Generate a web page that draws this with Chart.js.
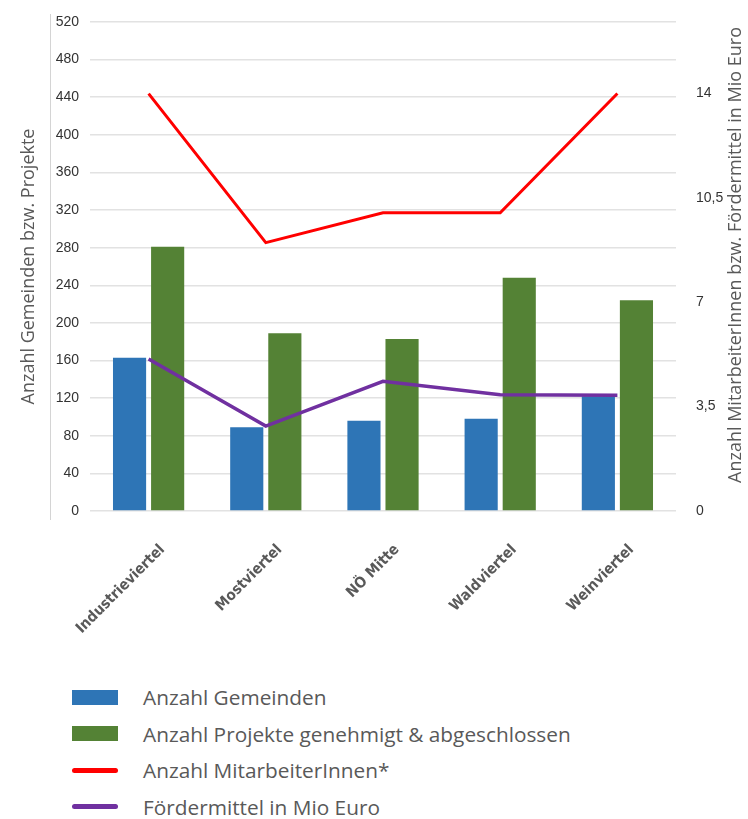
<!DOCTYPE html>
<html>
<head>
<meta charset="utf-8">
<script src="https://cdn.jsdelivr.net/npm/chart.js@4/dist/chart.umd.min.js"></script>
<style>
  body { margin: 0; background: #fff; }
  #wrap { width: 748px; height: 665px; position: relative; }
  #legend { margin: 14px 0 0 72px; font-family: "Open Sans", sans-serif; font-size: 20.8px; color: #595959; }
  .row { display: flex; align-items: center; height: 36.5px; }
  .mark { width: 46px; margin-right: 25px; }
</style>
</head>
<body>
<div id="wrap"><canvas id="chart"></canvas></div>
<div id="legend"></div>
<script>
// --- Datos ---
const regionen = ['Industrieviertel', 'Mostviertel', 'NÖ Mitte', 'Waldviertel', 'Weinviertel'];
const gemeinden = [163, 89, 96, 98, 122];
const projekte = [281, 189, 183, 248, 224];
const mitarbeiter = [14, 9, 10, 10, 14];
const foerdermittel = [5.1, 2.85, 4.35, 3.9, 3.88];
const rechteTicks = [0, 3.5, 7, 10.5, 14];

const serien = [
    { label: 'Anzahl Gemeinden', typ: 'bar', farbe: '#2e75b6' },
    { label: 'Anzahl Projekte genehmigt & abgeschlossen', typ: 'bar', farbe: '#548235' },
    { label: 'Anzahl MitarbeiterInnen*', typ: 'line', farbe: '#ff0000' },
    { label: 'Fördermittel in Mio Euro', typ: 'line', farbe: '#7030a0' }
];

const grau = '#595959';

// Linie links + rechter Achsentitel (von unten nach oben)
const deko = {
    id: 'deko',
    afterDraw(chart) {
        const ctx = chart.ctx;
        ctx.save();
        ctx.strokeStyle = '#d4d4d4';
        ctx.lineWidth = 1;
        ctx.beginPath();
        ctx.moveTo(50.5, 14);
        ctx.lineTo(50.5, 520);
        ctx.stroke();
        ctx.translate(736, 255);
        ctx.rotate(-Math.PI / 2);
        ctx.fillStyle = grau;
        ctx.font = '18px "Open Sans"';
        ctx.textAlign = 'center';
        ctx.textBaseline = 'middle';
        ctx.fillText('Anzahl MitarbeiterInnen bzw. Fördermittel in Mio Euro', 0, 0);
        ctx.restore();
    }
};

new Chart(document.getElementById('chart'), {
    type: 'bar',
    data: {
        labels: regionen,
        datasets: [
            { label: serien[0].label, data: gemeinden, backgroundColor: serien[0].farbe, yAxisID: 'y', order: 2,
              categoryPercentage: 0.65, barPercentage: 0.87 },
            { label: serien[1].label, data: projekte, backgroundColor: serien[1].farbe, yAxisID: 'y', order: 2,
              categoryPercentage: 0.65, barPercentage: 0.87 },
            { type: 'line', label: serien[2].label, data: mitarbeiter, borderColor: serien[2].farbe, borderWidth: 3,
              pointRadius: 0, yAxisID: 'y1', order: 1 },
            { type: 'line', label: serien[3].label, data: foerdermittel, borderColor: serien[3].farbe, borderWidth: 3.5,
              pointRadius: 0, yAxisID: 'y1', order: 0 }
        ]
    },
    options: {
        responsive: true,
        maintainAspectRatio: false,
        animation: false,
        layout: { padding: { left: 18, right: 0, top: 22, bottom: 0 } },
        plugins: { legend: { display: false }, tooltip: { enabled: false } },
        scales: {
            x: {
                offset: true,
                grid: { display: false },
                border: { display: false },
                ticks: {
                    minRotation: 45, maxRotation: 45, padding: 22, labelOffset: 14, color: grau,
                    font: { family: '"DejaVu Sans Condensed", "Liberation Sans Narrow", Roboto', size: 15, weight: 'bold' }
                },
                afterFit: s => { s.height = 154; }
            },
            y: {
                position: 'left',
                min: 0, max: 520,
                ticks: { stepSize: 40, padding: 11, color: '#333', font: { family: '"Liberation Sans"', size: 14 } },
                grid: { color: '#e2e2e2', lineWidth: 1.5, drawTicks: false },
                border: { display: false },
                title: { display: true, text: 'Anzahl Gemeinden bzw. Projekte', color: grau, padding: { top: 0, bottom: 0 },
                         font: { family: '"Open Sans"', size: 18 } },
                afterFit: s => { s.width = 72; }
            },
            y1: {
                position: 'right',
                min: 0, max: 16.4,
                grid: { display: false },
                border: { display: false },
                ticks: { padding: 12, color: '#333', font: { family: '"Liberation Sans"', size: 14 },
                         callback: v => String(v).replace('.', ',') },
                afterBuildTicks: s => { s.ticks = rechteTicks.map(v => ({ value: v })); },
                afterFit: s => { s.width = 72; }
            }
        }
    },
    plugins: [deko]
});

// --- Legende ---
const legende = document.getElementById('legend');
serien.forEach(s => {
    const mark = s.typ === 'bar'
        ? `<div class="mark" style="height:15px;background:${s.farbe}"></div>`
        : `<div class="mark" style="height:5px;border-radius:3px;background:${s.farbe}"></div>`;
    legende.innerHTML += `<div class="row">${mark}<span>${s.label}</span></div>`;
});
</script>
</body>
</html>
